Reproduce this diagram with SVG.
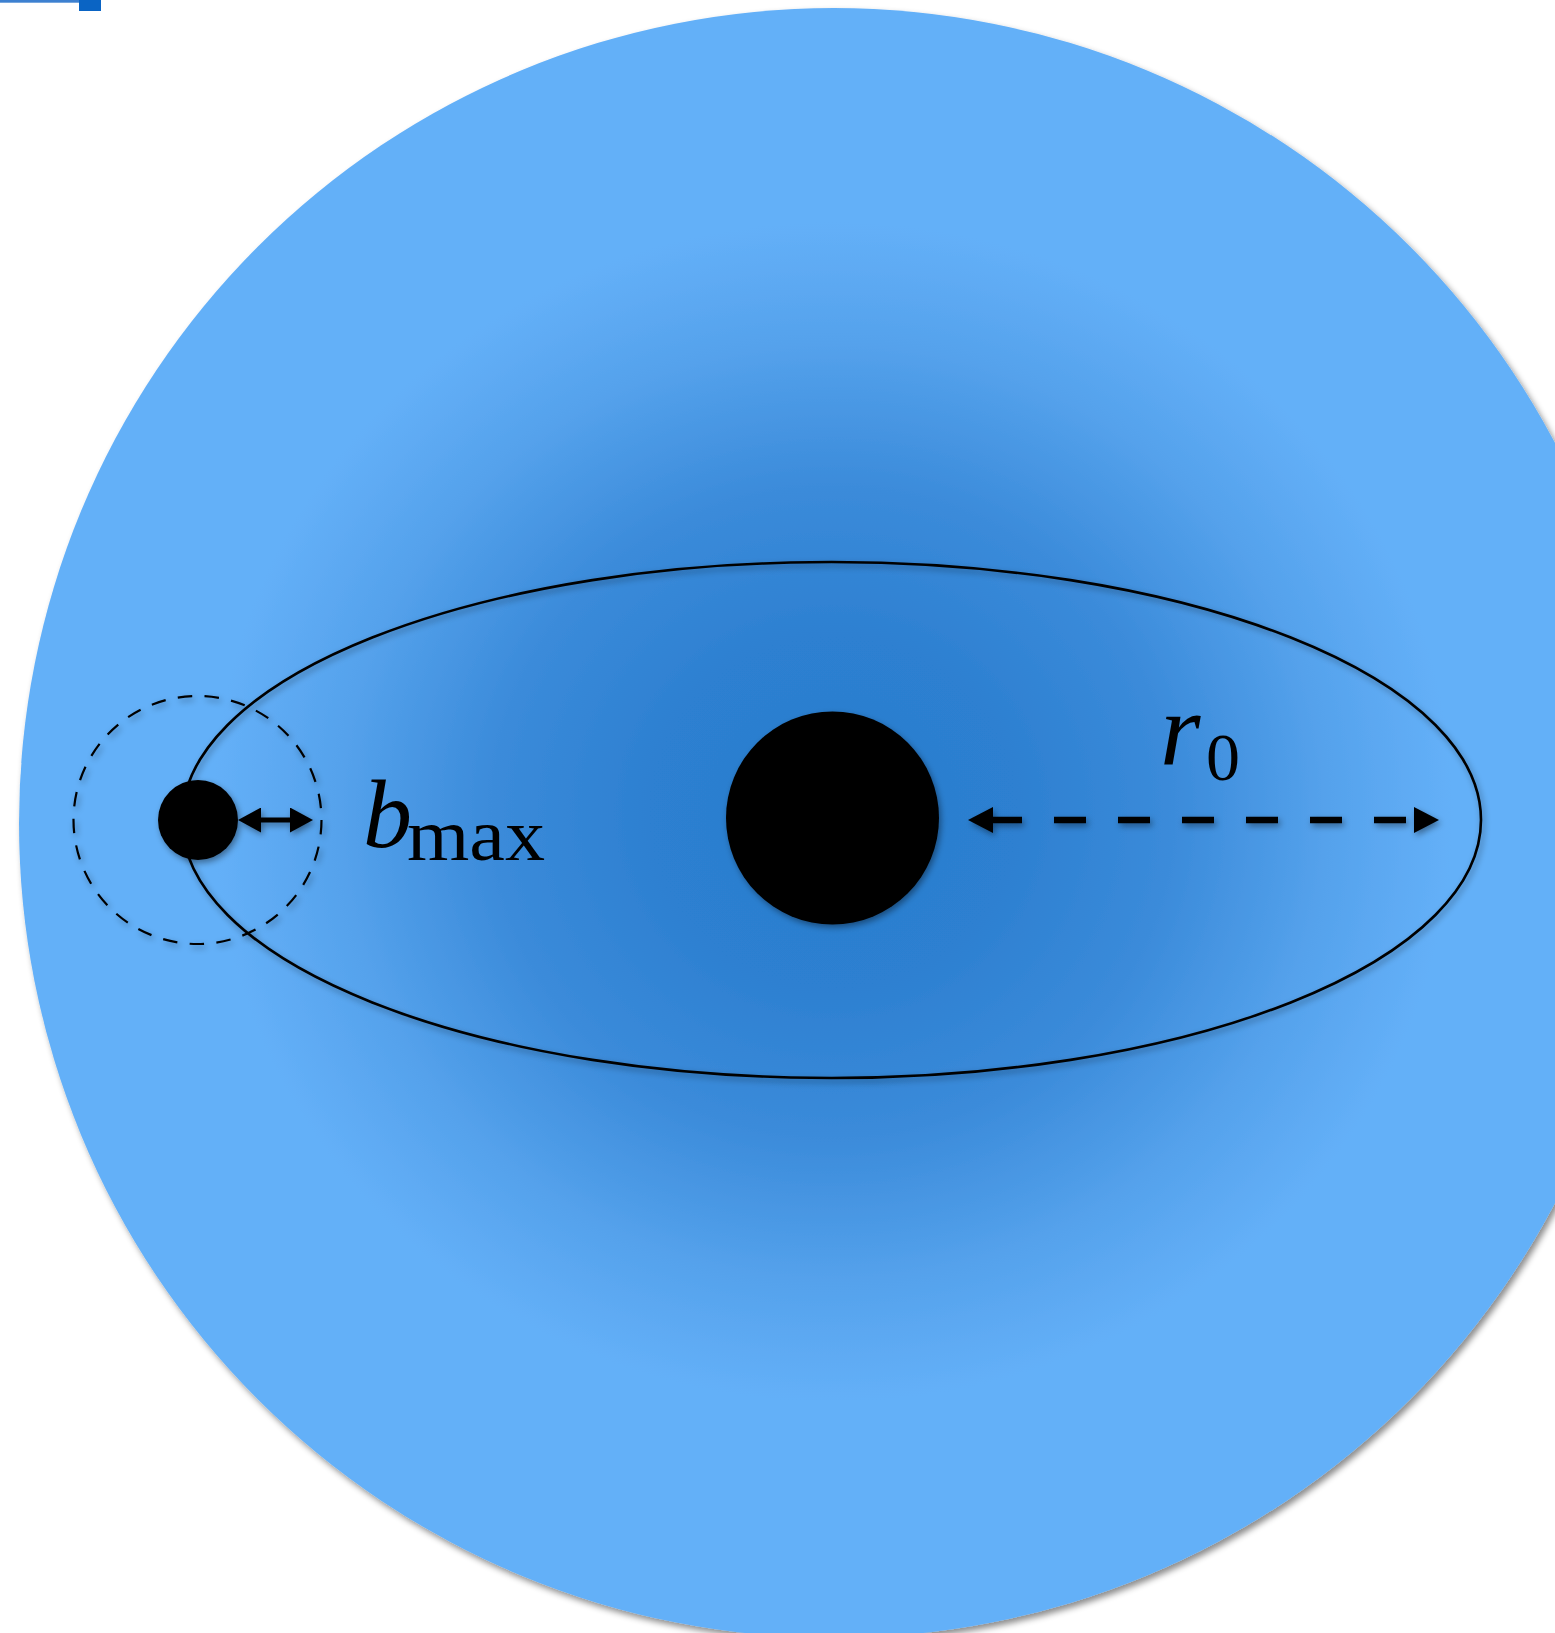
<svg xmlns="http://www.w3.org/2000/svg" width="1555" height="1633" viewBox="0 0 1555 1633">
<style>
.ink{fill:#000;}
.orbit{fill:none;stroke:#000;stroke-width:2.6;}
.capture{fill:none;stroke:#000;stroke-width:2.2;stroke-dasharray:14.5 12.37;}
.lbl{font-family:"Liberation Serif","Times New Roman",serif;fill:#000;}
.it{font-style:italic;}
.arr{stroke:#000;fill:none;}
</style>
<defs>
<radialGradient id="glow" gradientUnits="userSpaceOnUse" cx="0" cy="0" r="1" gradientTransform="translate(833 812) scale(620 590)">
<stop offset="0" stop-color="#2a7ccd"/>
<stop offset="0.3" stop-color="#2d80d1"/>
<stop offset="0.55" stop-color="#3b8bda"/>
<stop offset="0.8" stop-color="#55a2ec"/>
<stop offset="1" stop-color="#64b0f8"/>
</radialGradient>
<filter id="bigShadow" x="-10%" y="-10%" width="125%" height="125%">
<feDropShadow dx="3" dy="4" stdDeviation="3" flood-color="#000" flood-opacity="0.45"/>
</filter>
<filter id="shadow" filterUnits="userSpaceOnUse" x="0" y="0" width="1555" height="1633">
<feDropShadow dx="2" dy="3" stdDeviation="3" flood-color="#000" flood-opacity="0.4"/>
</filter>
<marker id="headBig" markerUnits="userSpaceOnUse" markerWidth="25" markerHeight="26" refX="0" refY="13" orient="auto-start-reverse" viewBox="0 0 25 26">
<path d="M0,0 L25,13 L0,26 Z" fill="#000"/>
</marker>
<marker id="headSmall" markerUnits="userSpaceOnUse" markerWidth="23" markerHeight="25" refX="0" refY="12.5" orient="auto-start-reverse" viewBox="0 0 23 25">
<path d="M0,0 L23,12.5 L0,25 Z" fill="#000"/>
</marker>
</defs>

<g id="corner-bar">
<rect x="0" y="0" width="80" height="2.7" fill="#3d80d0"/>
<rect x="79" y="0" width="22" height="11" fill="#0a64c4"/>
</g>

<g id="sphere">
<circle cx="834" cy="823" r="815" fill="url(#glow)" filter="url(#bigShadow)"/>
</g>

<g id="orbit" filter="url(#shadow)">
<ellipse class="orbit" cx="831.5" cy="820" rx="649.5" ry="258"/>
</g>

<g id="capture-radius" filter="url(#shadow)">
<circle class="capture" cx="197.5" cy="820" r="124"/>
</g>

<g id="central-mass" filter="url(#shadow)">
<circle class="ink" cx="832.5" cy="818" r="106.5"/>
</g>

<g id="orbiter" filter="url(#shadow)">
<circle class="ink" cx="198" cy="820" r="40"/>
</g>

<g id="connectors" filter="url(#shadow)">
<line class="arr" x1="261" y1="820" x2="290" y2="820" stroke-width="5" marker-start="url(#headSmall)" marker-end="url(#headSmall)"/>
<line class="arr" x1="993" y1="820" x2="1414" y2="820" stroke-width="6.5" stroke-dasharray="32 32" stroke-dashoffset="3" marker-start="url(#headBig)" marker-end="url(#headBig)"/>
</g>

<g id="labels">
<text class="lbl" x="363" y="847"><tspan class="it" font-size="98">b</tspan></text>
<text class="lbl" x="407" y="860" font-size="74" textLength="138" lengthAdjust="spacingAndGlyphs">max</text>
<text class="lbl it" x="1160" y="765" font-size="104">r</text>
<text class="lbl" x="1206" y="780" font-size="68">0</text>
</g>
</svg>
